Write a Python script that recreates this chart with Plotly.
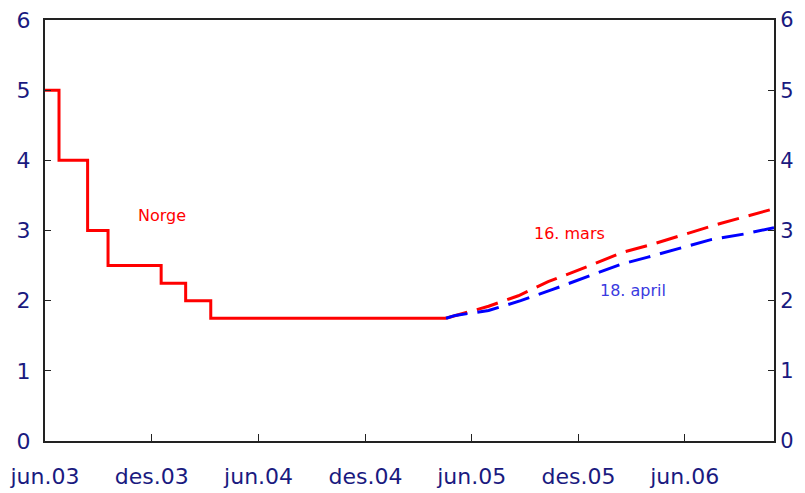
import plotly.graph_objects as go

# key policy rate, Norway (step series)
norge_dates = ["2003-06-01", "2003-06-25", "2003-08-13", "2003-09-17",
               "2003-12-17", "2004-01-28", "2004-03-11", "2005-04-18"]
norge_rate = [5.0, 4.0, 3.0, 2.5, 2.25, 2.0, 1.75, 1.75]

# forward rates, 16 March
mars_dates = ["2005-04-18", "2005-06-30", "2005-08-20", "2005-10-10", "2005-12-05",
              "2006-01-25", "2006-02-15", "2006-04-01", "2006-06-01", "2006-08-01",
              "2006-11-01"]
mars_rate = [1.75, 1.92, 2.07, 2.27, 2.45, 2.62, 2.69, 2.79, 2.94, 3.10, 3.31]

# forward rates, 18 April
april_dates = ["2005-04-18", "2005-05-04", "2005-06-30", "2005-08-24", "2005-10-18",
               "2005-12-10", "2006-01-26", "2006-02-12", "2006-03-30", "2006-05-26",
               "2006-07-16", "2006-09-11", "2006-11-01"]
april_rate = [1.75, 1.79, 1.86, 2.00, 2.16, 2.32, 2.47, 2.52, 2.62, 2.75, 2.87, 2.95, 3.04]

tick_dates = ["2003-06-01", "2003-12-01", "2004-06-01", "2004-12-01",
              "2005-06-01", "2005-12-01", "2006-06-01"]
tick_labels = ["jun.03", "des.03", "jun.04", "des.04", "jun.05", "des.05", "jun.06"]

navy = "#1a1a80"
font_fam = "DejaVu Sans"

fig = go.Figure()
fig.add_trace(go.Scatter(x=mars_dates, y=mars_rate, mode="lines",
                         line=dict(color="#ff0000", width=3, dash="22px,10px")))
fig.add_trace(go.Scatter(x=april_dates, y=april_rate, mode="lines",
                         line=dict(color="#0000ff", width=3, dash="22px,10px")))
fig.add_trace(go.Scatter(x=norge_dates, y=norge_rate, mode="lines",
                         line=dict(color="#ff0000", width=3, shape="hv")))
# dummy trace so the right axis gets drawn
fig.add_trace(go.Scatter(x=norge_dates, y=norge_rate, mode="lines", yaxis="y2",
                         line=dict(width=0), opacity=0, hoverinfo="skip"))

fig.add_annotation(x="2003-12-18", y=3.22, text="Norge", showarrow=False,
                   font=dict(color="#ff0000", size=16, family=font_fam))
fig.add_annotation(x="2005-11-15", y=2.96, text="16. mars", showarrow=False,
                   font=dict(color="#ff0000", size=16, family=font_fam))
fig.add_annotation(x="2006-03-04", y=2.15, text="18. april", showarrow=False,
                   font=dict(color="#3a3ae0", size=16, family=font_fam))

yax = dict(range=[0, 6], dtick=1, showgrid=False, zeroline=False,
           showline=True, linecolor="#222222", linewidth=2,
           ticks="inside", ticklen=6, tickcolor="#222222",
           tickfont=dict(color=navy, size=22, family=font_fam),
           ticklabelstandoff=8, automargin=False, ticklabeloverflow="allow")

# page body adds ~8px offset; keep the figure inside the visible window
fig.update_layout(
    width=789, height=485,
    margin=dict(l=37, r=23, t=12, b=52),
    plot_bgcolor="white", paper_bgcolor="white",
    showlegend=False,
    xaxis=dict(type="date", range=["2003-06-01", "2006-11-01"],
               tickvals=tick_dates, ticktext=tick_labels,
               showgrid=False, zeroline=False,
               showline=True, mirror=True, linecolor="#222222", linewidth=2,
               ticks="inside", ticklen=7, tickcolor="#222222",
               tickfont=dict(color=navy, size=22, family=font_fam),
               ticklabelstandoff=15, automargin=False, ticklabeloverflow="allow"),
    yaxis=yax,
    yaxis2=dict(yax, overlaying="y", side="right", anchor="x", ticklabelstandoff=0,
                tickfont=dict(color=navy, size=21, family=font_fam)),
)

fig.write_html("out.html")
